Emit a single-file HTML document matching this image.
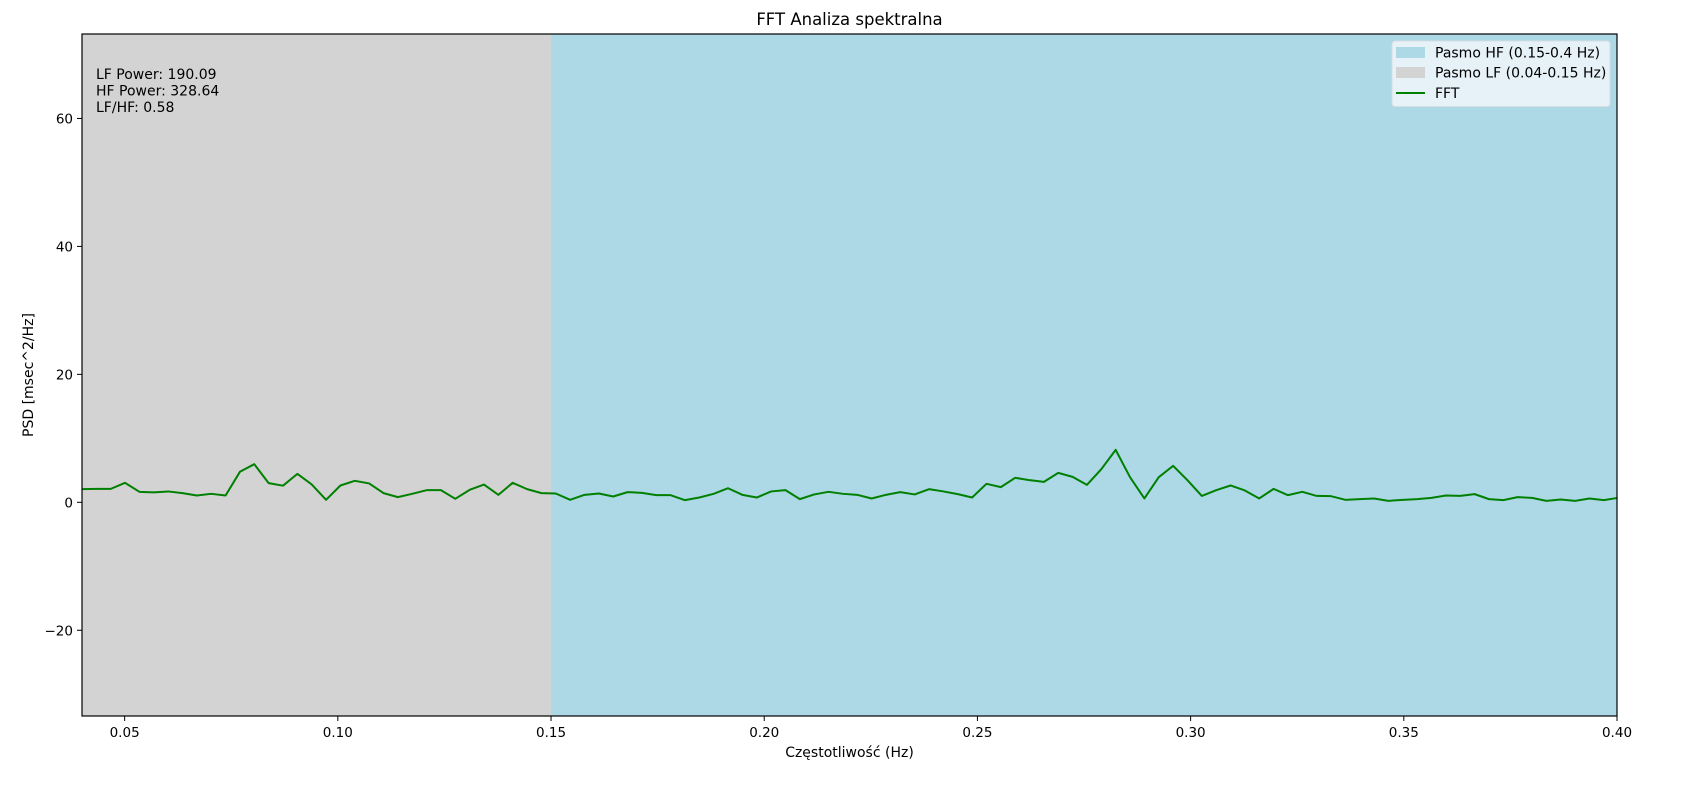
<!DOCTYPE html>
<html><head><meta charset="utf-8"><style>
html,body{margin:0;padding:0;background:#fff}
svg{display:block;font-family:"DejaVu Sans","Liberation Sans",sans-serif}
</style></head><body>
<svg id="chart" width="1687" height="808" viewBox="0 0 1687 808" xmlns="http://www.w3.org/2000/svg">
<rect width="1687" height="808" fill="#fff"/>
<g id="plot"></g>
<text x="849.5" y="25" text-anchor="middle" font-size="16.5" fill="#000">FFT Analiza spektralna</text>
<text x="849.5" y="757" text-anchor="middle" font-size="14" fill="#000">Częstotliwość (Hz)</text>
<text transform="translate(33,375) rotate(-90)" text-anchor="middle" font-size="14" fill="#000">PSD [msec^2/Hz]</text>
<g font-size="14" fill="#000">
<text x="96" y="79">LF Power: 190.09</text>
<text x="96" y="95.5">HF Power: 328.64</text>
<text x="96" y="112">LF/HF: 0.58</text>
</g>
<g>
<rect x="1392" y="41" width="218" height="65.5" rx="3" fill="#f0f7fa" fill-opacity="0.85" stroke="#d8dde0"/>
<rect x="1396" y="47" width="29" height="11" fill="#add8e6"/>
<text x="1435" y="57.5" font-size="14">Pasmo HF (0.15-0.4 Hz)</text>
<rect x="1396" y="67" width="29" height="11" fill="#d3d3d3"/>
<text x="1435" y="77.5" font-size="14">Pasmo LF (0.04-0.15 Hz)</text>
<line x1="1396" y1="93" x2="1425" y2="93" stroke="#008000" stroke-width="2"/>
<text x="1435" y="98" font-size="14">FFT</text>
</g>
</svg>
<script>
const xTicks = [0.05,0.10,0.15,0.20,0.25,0.30,0.35,0.40];
const xTickLabels = ["0.05","0.10","0.15","0.20","0.25","0.30","0.35","0.40"];
const yTicks = [-20,0,20,40,60];
const yTickLabels = ["\u221220","0","20","40","60"];
const lfBand = [0.04,0.15];
const hfBand = [0.15,0.40];
const fStart = 0.04;
const fStep = 0.003367;
const psd = [2.06,2.1,2.1,3.05,1.64,1.55,1.7,1.44,1.07,1.33,1.07,4.77,5.96,3.0,2.6,4.45,2.8,0.39,2.63,3.36,
2.95,1.44,0.81,1.33,1.9,1.9,0.55,1.95,2.78,1.17,3.05,2.06,1.44,1.38,0.39,1.17,1.38,0.91,1.59,1.48,
1.12,1.12,0.34,0.75,1.33,2.2,1.17,0.75,1.7,1.9,0.5,1.23,1.64,1.33,1.17,0.6,1.17,1.59,1.23,2.06,
1.7,1.28,0.75,2.89,2.37,3.83,3.46,3.2,4.6,3.98,2.73,5.18,8.2,3.93,0.6,3.93,5.7,3.46,1.0,1.9,
2.63,1.85,0.6,2.1,1.12,1.64,1.0,0.96,0.39,0.5,0.6,0.23,0.39,0.5,0.7,1.07,1.0,1.28,0.5,0.34,
0.81,0.7,0.23,0.44,0.23,0.6,0.34,0.7];

const L=82,R=1617,T=34,B=716,xmin=0.04,xmax=0.40,ymin=-33.4,ymax=73.2;
const sx=v=>L+(v-xmin)/(xmax-xmin)*(R-L);
const sy=v=>B-(v-ymin)/(ymax-ymin)*(B-T);
const NS="http://www.w3.org/2000/svg";
const plot=document.getElementById('plot');
function mk(tag,attrs,parent){const e=document.createElementNS(NS,tag);for(const k in attrs)e.setAttribute(k,attrs[k]);(parent||plot).appendChild(e);return e;}

const defs=mk('defs',{});
const cp=mk('clipPath',{id:'clip'},defs);
mk('rect',{x:L,y:T,width:R-L,height:B-T},cp);

const lf=mk('rect',{x:sx(lfBand[0]),y:T,width:sx(lfBand[1])-sx(lfBand[0]),height:B-T,fill:'#d3d3d3'});


const hf=mk('rect',{x:sx(hfBand[0]),y:T,width:sx(hfBand[1])-sx(hfBand[0]),height:B-T,fill:'#add8e6'});



let d='';
psd.forEach((v,i)=>{const f=fStart+i*fStep;d+=(i?'L':'M')+sx(f).toFixed(2)+','+sy(v).toFixed(2);});
const line=mk('path',{d:d,fill:'none',stroke:'#008000','stroke-width':2,'stroke-linejoin':'round','clip-path':'url(#clip)'});



const frame=mk('rect',{x:L,y:T,width:R-L,height:B-T,fill:'none',stroke:'#000','stroke-width':1.2});



xTicks.forEach((t,i)=>{
  const x=sx(t);
  const tk=mk('line',{x1:x,y1:B,x2:x,y2:B+5,stroke:'#000','stroke-width':1});
  
  
  const tx=mk('text',{x:x,y:B+21,'text-anchor':'middle','font-size':13.5,fill:'#000'});
  tx.textContent=xTickLabels[i];
  
  
});
yTicks.forEach((t,i)=>{
  const y=sy(t);
  const tk=mk('line',{x1:L-5,y1:y,x2:L,y2:y,stroke:'#000','stroke-width':1});
  
  
  const tx=mk('text',{x:L-9,y:y+5,'text-anchor':'end','font-size':13.5,fill:'#000'});
  tx.textContent=yTickLabels[i];
  
  
});
</script>
</body></html>
